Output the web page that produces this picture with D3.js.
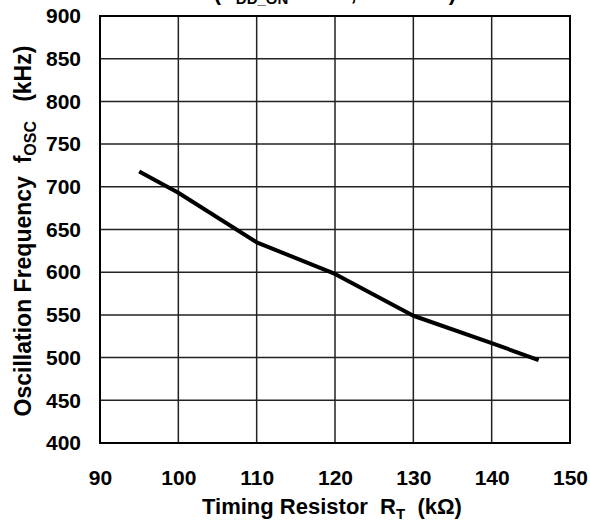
<!DOCTYPE html>
<html>
<head>
<meta charset="utf-8">
<script src="https://cdn.jsdelivr.net/npm/d3@7"></script>
<style>
  body { margin: 0; background: #fff; }
  text { font-family: "Liberation Sans", Arial, sans-serif; font-weight: bold; fill: #000; white-space: pre; }
</style>
</head>
<body>
<svg id="chart" width="590" height="522"></svg>
<script>
// data
let resistance = [95, 100, 110, 120, 130, 140, 146];
let frequency = [718, 693, 635, 598, 549, 517, 497];

let xTicks = [90, 100, 110, 120, 130, 140, 150];
let yTicks = [400, 450, 500, 550, 600, 650, 700, 750, 800, 850, 900];

let svg = d3.select("#chart");

let plotLeft = 100, plotRight = 570, plotTop = 16, plotBottom = 443;

let x = d3.scaleLinear().domain([90, 150]).range([plotLeft, plotRight]);
let y = d3.scaleLinear().domain([400, 900]).range([plotBottom, plotTop]);

// grid
svg.append("g")
    .selectAll("line")
    .data(xTicks)
    .enter()
    .append("line")
    .attr("x1", d => x(d)).attr("x2", d => x(d))
    .attr("y1", plotTop).attr("y2", plotBottom)
    .attr("stroke", "#222")
    .attr("stroke-width", 1.5);

svg.append("g")
    .selectAll("line")
    .data(yTicks)
    .enter()
    .append("line")
    .attr("x1", plotLeft).attr("x2", plotRight)
    .attr("y1", d => y(d)).attr("y2", d => y(d))
    .attr("stroke", "#222")
    .attr("stroke-width", 1.5);

// frame
svg.append("rect")
    .attr("x", plotLeft).attr("y", plotTop)
    .attr("width", plotRight - plotLeft).attr("height", plotBottom - plotTop)
    .attr("fill", "none")
    .attr("stroke", "#000")
    .attr("stroke-width", 2);

// tick labels via axes, domain/ticks hidden
let xAxis = svg.append("g")
    .attr("transform", `translate(0,${plotBottom})`)
    .call(d3.axisBottom(x).tickValues(xTicks).tickSize(0).tickPadding(27));
let yAxis = svg.append("g")
    .attr("transform", `translate(${plotLeft},0)`)
    .call(d3.axisLeft(y).tickValues(yTicks).tickSize(0).tickPadding(19));

[xAxis, yAxis].forEach(a => {
    a.select(".domain").remove();
    a.selectAll("text")
        .style("font-size", "21px")
        .style("font-family", "Liberation Sans, Arial, sans-serif")
        .style("font-weight", "bold")
        .attr("fill", "#000");
});

// curve
let line = d3.line()
    .x((d, i) => x(resistance[i]))
    .y(d => y(d));

svg.append("path")
    .datum(frequency)
    .attr("d", line)
    .attr("fill", "none")
    .attr("stroke", "#000")
    .attr("stroke-width", 4)
    .attr("stroke-linejoin", "round");

// x title
let xt = svg.append("text")
    .attr("x", 332).attr("y", 514)
    .attr("text-anchor", "middle")
    .style("font-size", "22px");
xt.append("tspan").text("Timing Resistor  R");
xt.append("tspan").attr("dy", 5).style("font-size", "15px").text("T");
xt.append("tspan").attr("dy", -5).text("  (k\u03A9)");

// y title
let yt = svg.append("text")
    .attr("transform", "translate(31,231) rotate(-90)")
    .attr("text-anchor", "middle")
    .style("font-size", "23px");
yt.append("tspan").text("Oscillation Frequency  f");
yt.append("tspan").attr("dy", 5).style("font-size", "16px").text("OSC");
yt.append("tspan").attr("dy", -5).text("   (kHz)");

// clipped title at the top edge
let tt = svg.append("text")
    .attr("x", 335).attr("y", 0)
    .attr("text-anchor", "middle")
    .style("font-size", "22px");
tt.append("tspan").text("(V");
tt.append("tspan").attr("dy", 4).style("font-size", "15px").text("DD_ON");
tt.append("tspan").attr("dy", -4).text(" = 12V, Ta=25\u00B0C)");
</script>
</body>
</html>
